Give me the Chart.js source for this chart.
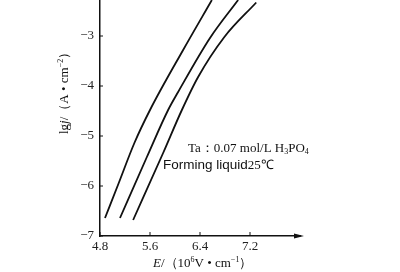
<!DOCTYPE html>
<html>
<head>
<meta charset="utf-8">
<script src="https://cdn.jsdelivr.net/npm/chart.js@4"></script>
<style>
  html, body { margin: 0; padding: 0; background: #fff; }
  #wrap { width: 400px; height: 272px; }
</style>
</head>
<body>
<div id="wrap"><canvas id="lgChart"></canvas></div>
<script>
// data: E (10^6 V/cm) vs lg j
const curve1E = [4.88, 5.10, 5.35, 5.60, 6.13, 6.59];
const curve1J = [-6.64, -5.94, -5.14, -4.48, -3.28, -2.28];
const curve2E = [5.12, 5.55, 5.89, 6.05, 6.56, 7.01];
const curve2J = [-6.64, -5.42, -4.48, -4.12, -3.04, -2.28];
const curve3E = [5.33, 5.81, 6.11, 6.37, 6.79, 7.30];
const curve3J = [-6.68, -5.34, -4.48, -3.82, -3.02, -2.33];
const xTicks = [4.8, 5.6, 6.4, 7.2];
const yTicks = [-7, -6, -5, -4, -3];

const serif = "'Liberation Serif', 'Times New Roman', serif";
const sans = "'Liberation Sans', Arial, sans-serif";

function pts(xs, ys) {
  return xs.map((x, i) => ({ x: x, y: ys[i] }));
}

function lineSet(xs, ys) {
  return {
    data: pts(xs, ys),
    showLine: true,
    borderColor: "#111",
    borderWidth: 1.8,
    pointRadius: 0,
    cubicInterpolationMode: "monotone",
    fill: false,
  };
}

// draw mixed-font text runs
function runs(ctx, parts, x, y) {
  parts.forEach((p) => {
    ctx.font = p[1];
    const dy = p[2] || 0;
    ctx.fillText(p[0], x, y + dy);
    x += ctx.measureText(p[0]).width;
  });
}

const decorPlugin = {
  id: "decor",
  afterDraw(chart) {
    const ctx = chart.ctx;
    const area = chart.chartArea;
    const xs = chart.scales.x;
    const ys = chart.scales.y;
    ctx.save();
    ctx.strokeStyle = "#111";
    ctx.fillStyle = "#111";
    ctx.lineWidth = 1;
    // inside tick marks
    xTicks.forEach((v) => {
      const px = xs.getPixelForValue(v);
      ctx.beginPath();
      ctx.moveTo(px, area.bottom);
      ctx.lineTo(px, area.bottom - 4);
      ctx.stroke();
    });
    yTicks.forEach((v) => {
      const py = ys.getPixelForValue(v);
      ctx.beginPath();
      ctx.moveTo(area.left, py);
      ctx.lineTo(area.left + 3, py);
      ctx.stroke();
    });
    // arrow on x axis
    ctx.beginPath();
    ctx.moveTo(area.right + 4, area.bottom);
    ctx.lineTo(area.right - 6, area.bottom - 2.5);
    ctx.lineTo(area.right - 6, area.bottom + 2.5);
    ctx.closePath();
    ctx.fill();

    ctx.textBaseline = "alphabetic";
    ctx.textAlign = "left";
    // x title
    const xt = [
      ["E", "italic 13px " + serif],
      ["/（10", "13px " + serif],
      ["6", "8px " + serif, -5],
      ["V • cm", "13px " + serif],
      ["−1", "8px " + serif, -5],
      ["）", "13px " + serif],
    ];
    runs(ctx, xt, 153, 267);
    // y title, rotated
    ctx.save();
    ctx.translate(68, 134);
    ctx.rotate(-Math.PI / 2);
    const yt = [
      ["lg", "13px " + serif],
      ["j", "italic 13px " + serif],
      ["/（A • cm", "13px " + serif],
      ["−2", "8px " + serif, -5],
      ["）", "13px " + serif],
    ];
    runs(ctx, yt, 0, 0);
    ctx.restore();
    // annotation
    const a1 = [
      ["Ta：0.07 mol/L H", "13px " + serif],
      ["3", "8px " + serif, 2],
      ["PO", "13px " + serif],
      ["4", "8px " + serif, 2],
    ];
    runs(ctx, a1, 188, 152);
    const a2 = [
      ["Forming liquid", "13.5px " + sans],
      ["25℃", "13px " + serif],
    ];
    runs(ctx, a2, 163, 169);
    ctx.restore();
  },
};

const ctx = document.getElementById("lgChart").getContext("2d");
const chart = new Chart(ctx, {
  type: "scatter",
  data: {
    datasets: [
      lineSet(curve1E, curve1J),
      lineSet(curve2E, curve2J),
      lineSet(curve3E, curve3J),
    ],
  },
  options: {
    responsive: true,
    maintainAspectRatio: false,
    animation: false,
    layout: { padding: { left: 48, right: 100, top: 0, bottom: 0 } },
    plugins: {
      legend: { display: false },
      tooltip: { enabled: false },
    },
    scales: {
      x: {
        type: "linear",
        min: 4.8,
        max: 8.0,
        afterBuildTicks: (s) => { s.ticks = xTicks.map((v) => ({ value: v })); },
        afterFit: (s) => { s.height = 36; s.paddingLeft = 0; s.paddingRight = 0; },
        grid: { display: true, drawOnChartArea: false, drawTicks: false },
        border: { color: "#111", width: 1.5 },
        ticks: {
          color: "#222",
          padding: 3,
          font: { family: serif, size: 13 },
          callback: (v) => v.toFixed(1),
          maxRotation: 0,
        },
      },
      y: {
        type: "linear",
        min: -7,
        max: -2.28,
        afterBuildTicks: (s) => { s.ticks = yTicks.map((v) => ({ value: v })); },
        afterFit: (s) => { s.width = 52; s.paddingTop = 0; s.paddingBottom = 0; },
        grid: { display: true, drawOnChartArea: false, drawTicks: false },
        border: { color: "#111", width: 1.5 },
        ticks: {
          color: "#222",
          padding: 6,
          font: { family: serif, size: 13 },
          callback: (v) => "−" + Math.abs(v),
        },
      },
    },
  },
  plugins: [decorPlugin],
});
</script>
</body>
</html>
